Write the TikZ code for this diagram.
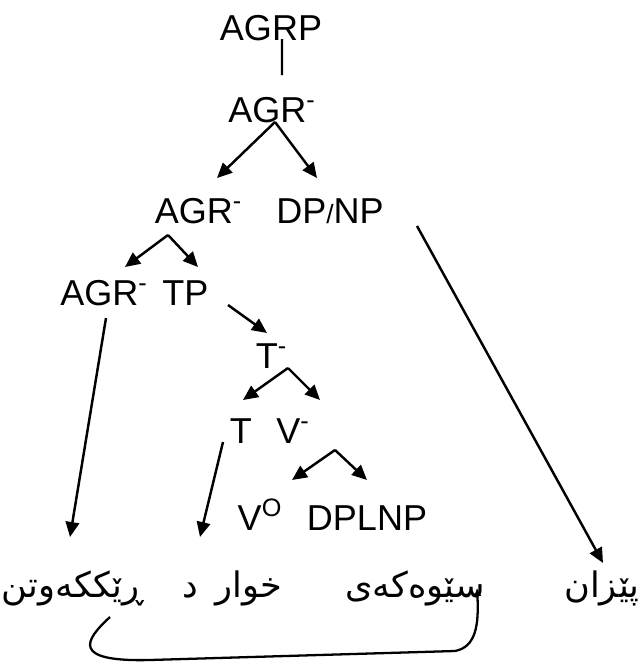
\documentclass[tikz,border=0pt]{standalone}
\usepackage{fontspec}
\setmainfont{Liberation Sans}
\newfontfamily\kurdfont[Script=Arabic]{DejaVu Sans}
\TeXXeTstate=1
\usetikzlibrary{arrows.meta,calc}

\begin{document}
\begin{tikzpicture}[x=1cm,y=1cm,font=\fontsize{20.5}{24}\selectfont,
  lbl/.style={inner sep=0pt,anchor=base},
  word/.style={inner sep=0pt,anchor=base,font=\kurdfont\fontsize{20}{23}\selectfont},
  arr/.style={-{Triangle[length=3mm,width=2.7mm]},line width=1.4pt},
  link/.style={{Latex[length=1.6mm,width=1.6mm]}-,line width=1.3pt}]
\useasboundingbox (0,0) rectangle (12.76,-13.24);
\node[lbl] (agrp) at (5.42,-0.80) {AGRP};
\node[lbl] (agb1) at (5.44,-2.44) {AGR\textsuperscript{-}};
\node[lbl] (agb2) at (3.97,-4.46) {AGR\textsuperscript{-}};
\node[lbl] (dpnp) at (6.60,-4.46) {DP{\fontsize{15}{15}\selectfont/}NP};
\node[lbl] (agb3) at (2.08,-6.10) {AGR\textsuperscript{-}};
\node[lbl] (tp) at (3.71,-6.10) {TP};
\node[lbl] (tb) at (5.43,-7.36) {T\textsuperscript{-}};
\node[lbl] (t) at (4.82,-8.86) {T};
\node[lbl] (vb) at (5.86,-8.86) {V\textsuperscript{-}};
\node[lbl] (vo) at (5.20,-10.60) {V\textsuperscript{O}};
\node[lbl] (dplnp) at (7.34,-10.60) {DPLNP};
\node[word] (w1) at (1.46,-11.94) {\beginR ڕێککەوتن\endR};
\node[word] (w2) at (3.80,-11.94) {\beginR د\endR};
\node[word] (w3) at (4.98,-11.94) {\beginR خوار\endR};
\node[word] (w4) at (8.30,-11.94) {\beginR سێوەکەی\endR};
\node[word] (w5) at (12.04,-11.94) {\beginR پێزان\endR};
\draw[line width=1.4pt] ([xshift=2.2mm,yshift=.2mm]agrp.base) -- ([xshift=2mm,yshift=9.4mm]agb1.base);
\draw[arr] ([xshift=.6mm]agb1.base) -- ([xshift=3.7mm,yshift=9mm]agb2.base);
\draw[arr] ([xshift=.6mm]agb1.base) -- ([xshift=-2.6mm,yshift=9mm]dpnp.base);
\draw[arr] ([xshift=-6.1mm,yshift=-2.4mm]agb2.base) -- ([xshift=4.2mm,yshift=7.6mm]agb3.base);
\draw[arr] ([xshift=-6.1mm,yshift=-2.4mm]agb2.base) -- ([xshift=2.5mm,yshift=7.6mm]tp.base);
\draw[arr] ([xshift=8.5mm]tp.base) -- ([xshift=-.9mm,yshift=7mm]tb.base);
\draw[arr] ([xshift=3.3mm]tb.base) -- ([xshift=.4mm,yshift=8.6mm]t.base);
\draw[arr] ([xshift=3.3mm]tb.base) -- ([xshift=5.4mm,yshift=8.6mm]vb.base);
\draw[arr] ([xshift=8.4mm,yshift=-1.4mm]vb.base) -- ([xshift=6.4mm,yshift=10mm]vo.base);
\draw[arr] ([xshift=8.4mm,yshift=-1.4mm]vb.base) -- ([yshift=10mm]dplnp.base);
\draw[arr] ([xshift=.4mm,yshift=-2.6mm]agb3.base) -- ([xshift=-.6mm,yshift=12mm]w1.base);
\draw[arr] ([xshift=-3.6mm,yshift=.2mm]t.base) -- ([xshift=2mm,yshift=12mm]w2.base);
\draw[arr] ([xshift=17.4mm,yshift=-.6mm]dpnp.base) -- ([xshift=.2mm,yshift=6.8mm]w5.base);
\draw[link] ([xshift=12.4mm,yshift=1.8mm]w4.base) .. controls (9.58,-12.50) and (9.52,-12.94) .. (9.10,-13.02)
  -- (3.0,-13.20) .. controls (1.40,-13.24) and (1.70,-12.80) .. ([xshift=7.4mm,yshift=-4mm]w1.base);
\end{tikzpicture}
\end{document}
